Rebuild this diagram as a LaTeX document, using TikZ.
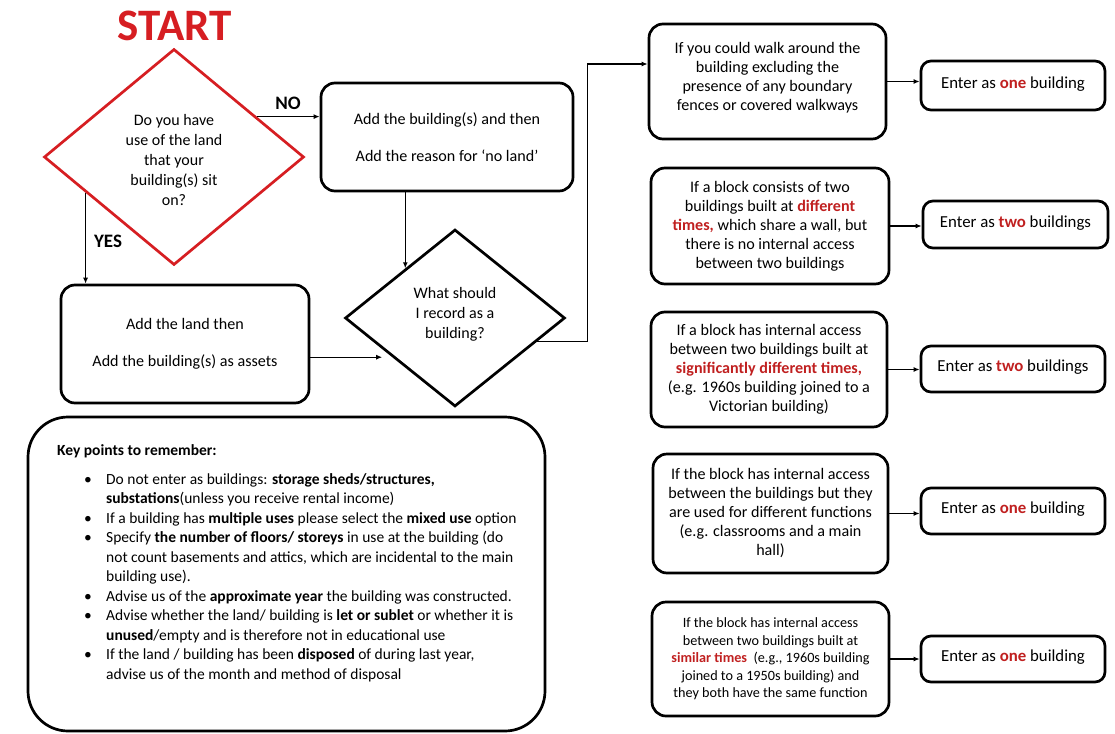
\documentclass[tikz,border=0pt]{standalone}
\usepackage{fontspec}
\setmainfont{Carlito}
\usetikzlibrary{shapes.geometric,arrows.meta,calc}
\definecolor{startred}{RGB}{214,30,34}
\definecolor{wordred}{RGB}{192,32,32}
\newcommand{\rw}[1]{\textcolor{wordred}{\textbf{#1}}}
\newcommand{\kbul}{\hspace*{27pt}\makebox[22pt][l]{\textbullet}}
\newcommand{\kind}{\hspace*{49pt}}
\begin{document}
\begin{tikzpicture}[x=1pt,y=-1pt,
  box/.style={draw, line width=2.7pt, rounded corners=14pt, align=center, inner sep=0pt, font=\fontsize{16.1}{19}\selectfont},
  dia/.style={draw, diamond, line width=2.7pt, align=center, inner sep=0pt, font=\fontsize{16}{20}\selectfont},
  ebox/.style={box, rounded corners=10pt, font=\fontsize{16.8}{19}\selectfont},
  arr/.style={line width=1.3pt, -{Latex[length=6pt,width=5pt]}},
  lbl/.style={font=\fontsize{19}{19}\selectfont\bfseries, inner sep=0pt}]
\useasboundingbox (0,0) rectangle (1115,733);

% START
\node[font=\fontsize{45}{45}\selectfont\bfseries, text=startred, inner sep=0pt] (start) at (175,26) {START};

% decision 1
\node[dia, draw=startred, minimum width=260pt, minimum height=216pt] (d1) at (174,157)
  {\rule{0pt}{17pt}Do you have\\use of the land\\that your\\building(s) sit\\on?};

% no land box
\node[box, minimum width=252pt, minimum height=108pt] (addb) at (447,137)
  {Add the building(s) and then\\[18pt]Add the reason for ‘no land’};

% land box
\node[box, minimum width=248pt, minimum height=118pt] (land) at (185,344)
  {Add the land then\\[18pt]Add the building(s) as assets};

% decision 2
\node[dia, minimum width=220pt, minimum height=177pt] (d2) at (455,318)
  {What should\\I record as a\\building?\rule[-10pt]{0pt}{0pt}};

% right column condition boxes
\node[box, minimum width=237pt, minimum height=115pt] (c1) at (767.5,81.5)
  {If you could walk around the\\building excluding the\\presence of any boundary\\fences or covered walkways\\[-8pt]};
\node[box, minimum width=238pt, minimum height=116pt] (c2) at (770,226)
  {If a block consists of two\\buildings built at \rw{different}\\\rw{times,} which share a wall, but\\there is no internal access\\between two buildings};
\node[box, minimum width=236pt, minimum height=115pt] (c3) at (769,369.5)
  {If a block has internal access\\between two buildings built at\\\rw{significantly different times,}\\(e.g. 1960s building joined to a\\Victorian building)};
\node[box, minimum width=235pt, minimum height=119pt] (c4) at (770.5,513.5)
  {If the block has internal access\\between the buildings but they\\are used for different functions\\(e.g. classrooms and a main\\hall)};
\node[box, minimum width=237pt, minimum height=114pt, font=\fontsize{14.2}{17.5}\selectfont] (c5) at (770.5,659)
  {If the block has internal access\\between two buildings built at\\\rw{similar times}\ \ (e.g., 1960s building\\joined to a 1950s building) and\\they both have the same function};

% outcome boxes
\node[ebox, minimum width=184pt, minimum height=49pt] (e1) at (1013,85.5) {\raisebox{6pt}{Enter as \rw{one} building}};
\node[ebox, minimum width=185pt, minimum height=47pt] (e2) at (1015.5,224.5) {\raisebox{6pt}{Enter as \rw{two} buildings}};
\node[ebox, minimum width=184pt, minimum height=46pt] (e3) at (1013,369) {\raisebox{6pt}{Enter as \rw{two} buildings}};
\node[ebox, minimum width=184pt, minimum height=46pt] (e4) at (1013,511) {\raisebox{6pt}{Enter as \rw{one} building}};
\node[ebox, minimum width=184pt, minimum height=46pt] (e5) at (1013,659) {\raisebox{6pt}{Enter as \rw{one} building}};

% key points box
\node[draw, line width=2.7pt, rounded corners=40pt, minimum width=517pt, minimum height=314pt, inner sep=0pt] (keybox) at (286.5,574) {};
\node[anchor=north west, align=left, inner sep=0pt, font=\fontsize{15.5}{19.5}\selectfont] (keys) at (57,444) {%
\textbf{Key points to remember:}\\[9.5pt]
\kbul Do not enter as buildings: \textbf{storage sheds/structures,}\\
\kind\textbf{substations}(unless you receive rental income)\\
\kbul If a building has \textbf{multiple uses} please select the \textbf{mixed use} option\\
\kbul Specify \textbf{the number of floors/ storeys} in use at the building (do\\
\kind not count basements and attics, which are incidental to the main\\
\kind building use).\\
\kbul Advise us of the \textbf{approximate year} the building was constructed.\\
\kbul Advise whether the land/ building is \textbf{let or sublet} or whether it is\\
\kind\textbf{unused}/empty and is therefore not in educational use\\
\kbul If the land / building has been \textbf{disposed} of during last year,\\
\kind advise us of the month and method of disposal};

% connectors
\draw[arr] (d1.26) -- (d1.26 -| addb.west);
\node[lbl] (nolbl) at (288,103) {NO};
\draw[arr] (d1.202) -- (d1.202 |- land.north);
\node[lbl] (yeslbl) at (108,241) {YES};
\draw[arr] (addb.south -| d2.135) -- (d2.135);
\draw[arr, shorten >=10pt] (land.east |- d2.212.6) -- (d2.212.6);
\draw[arr] (d2.-16) -- ++(50,0) |- ([yshift=17.5pt]c1.west);
\draw[arr] (c1.east) -- (c1.east -| e1.west);
\draw[arr] (c2.east) -- (c2.east -| e2.west);
\draw[arr] (c3.east) -- (c3.east -| e3.west);
\draw[arr] (c4.east) -- (c4.east -| e4.west);
\draw[arr] (c5.east) -- (c5.east -| e5.west);
\end{tikzpicture}
\end{document}
